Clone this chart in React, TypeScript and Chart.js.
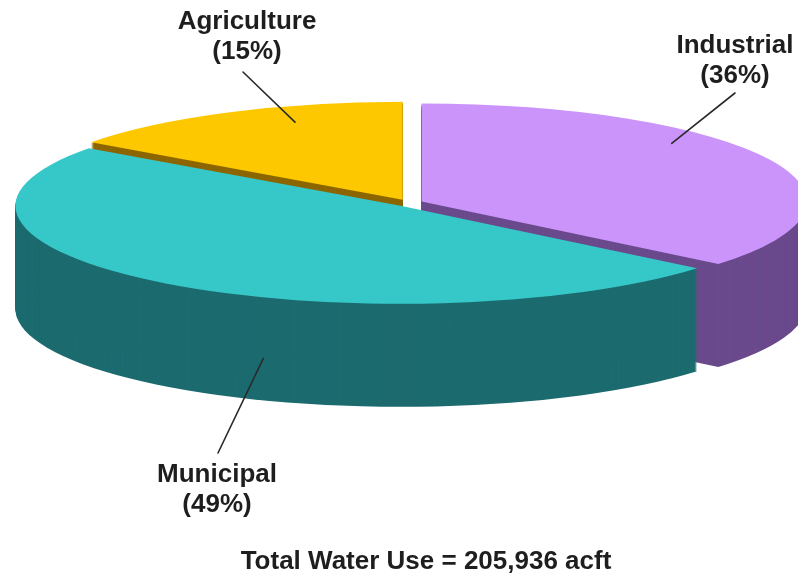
import React, { useEffect, useRef } from 'react';
import { Chart, registerables } from 'chart.js';

Chart.register(...registerables);

// ---- data ----
const categories = ['Industrial', 'Municipal', 'Agriculture'];
const shares = [36, 49, 15];
const shareLabels = ['(36%)', '(49%)', '(15%)'];
const totalText = 'Total Water Use = 205,936 acft';

// ---- styles ----
const TOP_COLORS = ['#CA94FB', '#36C8C8', '#FEC800'];
const SIDE_COLORS = ['#6A4A8C', '#1C6B6F', '#8C6600'];
const EXPLODE = [14, 14, 14];
const RADIUS = 385;
const TILT = 98 / 385;
const DEPTH = 103;
const FONT = 'bold 26px "Liberation Sans", Arial, Helvetica, sans-serif';
const TEXT_COLOR = '#1e1e1e';
const LINE_GAP = 30;

// label layout: text centre x / first baseline, leader start, anchor inside slice
const LABELS = [
  { x: 735, y: 53, lx: 735, ly: 93, t: 0.367, rf: 0.88, drop: 0 },
  { x: 217, y: 482, lx: 218, ly: 453, t: 0.404, rf: 1, drop: 61 },
  { x: 247, y: 29, lx: 243, ly: 72, t: 0.64, rf: 0.84, drop: 0 },
];
const TITLE_POS = { x: 426, y: 569 };

function sliceCentre(arc: any, i: number) {
  const mid = (arc.startAngle + arc.endAngle) / 2;
  return { ex: arc.x + Math.cos(mid) * EXPLODE[i], ey: arc.y + Math.sin(mid) * EXPLODE[i] };
}

const pie3d = {
  id: 'pie3d',
  beforeDatasetsDraw(chart: any) {
    const ctx = chart.ctx as CanvasRenderingContext2D;
    const arcs = chart.getDatasetMeta(0).data as any[];
    if (!arcs.length) return;
    const cy = arcs[0].y;
    ctx.save();
    ctx.translate(0, cy);
    ctx.scale(1, TILT);
    ctx.translate(0, -cy);
    for (let d = DEPTH; d >= 1; d--) {
      arcs.forEach((arc, i) => {
        const { ex, ey } = sliceCentre(arc, i);
        const yy = ey + d / TILT;
        ctx.beginPath();
        ctx.moveTo(ex, yy);
        ctx.arc(ex, yy, arc.outerRadius, arc.startAngle, arc.endAngle);
        ctx.closePath();
        ctx.fillStyle = SIDE_COLORS[i];
        ctx.fill();
      });
    }
    arcs.forEach((arc, i) => {
      const mid = (arc.startAngle + arc.endAngle) / 2;
      ctx.save();
      ctx.translate(Math.cos(mid) * EXPLODE[i], Math.sin(mid) * EXPLODE[i]);
      arc.draw(ctx);
      ctx.restore();
    });
    ctx.restore();
    return false;
  },
  afterDraw(chart: any) {
    const ctx = chart.ctx as CanvasRenderingContext2D;
    const arcs = chart.getDatasetMeta(0).data as any[];
    if (!arcs.length) return;
    const cy = arcs[0].y;
    ctx.save();
    ctx.strokeStyle = '#2a2a2a';
    ctx.lineWidth = 1.6;
    ctx.lineCap = 'round';
    arcs.forEach((arc, i) => {
      const L = LABELS[i];
      const { ex, ey } = sliceCentre(arc, i);
      const a = arc.startAngle + (arc.endAngle - arc.startAngle) * L.t;
      const r = arc.outerRadius * L.rf;
      const px = ex + Math.cos(a) * r;
      const py = cy + (ey + Math.sin(a) * r - cy) * TILT + L.drop;
      ctx.beginPath();
      ctx.moveTo(L.lx, L.ly);
      ctx.lineTo(px, py);
      ctx.stroke();
      ctx.fillStyle = TEXT_COLOR;
      ctx.font = FONT;
      ctx.textAlign = 'center';
      ctx.textBaseline = 'alphabetic';
      ctx.fillText(categories[i], L.x, L.y);
      ctx.fillText(shareLabels[i], L.x, L.y + LINE_GAP);
    });
    ctx.fillStyle = TEXT_COLOR;
    ctx.font = FONT;
    ctx.textAlign = 'center';
    ctx.fillText(totalText, TITLE_POS.x, TITLE_POS.y);
    ctx.restore();
  },
};

export default function App() {
  const ref = useRef<HTMLCanvasElement>(null);
  useEffect(() => {
    const chart = new Chart(ref.current as HTMLCanvasElement, {
      type: 'pie',
      data: {
        labels: categories,
        datasets: [
          {
            data: shares,
            backgroundColor: TOP_COLORS,
            borderWidth: 0,
            clip: false as any,
          },
        ],
      },
      options: {
        animation: false,
        responsive: false,
        events: [],
        radius: RADIUS,
        rotation: 0,
        layout: { padding: { left: 20, right: 0, top: 0, bottom: 167 } },
        plugins: {
          legend: { display: false },
          tooltip: { enabled: false },
          title: { display: false },
        },
      } as any,
      plugins: [pie3d],
    });
    return () => chart.destroy();
  }, []);
  return (
    <div style={{ position: 'absolute', left: 0, top: 0, width: 798, height: 573, background: '#ffffff' }}>
      <canvas ref={ref} width={798} height={573} style={{ display: 'block' }} />
    </div>
  );
}
